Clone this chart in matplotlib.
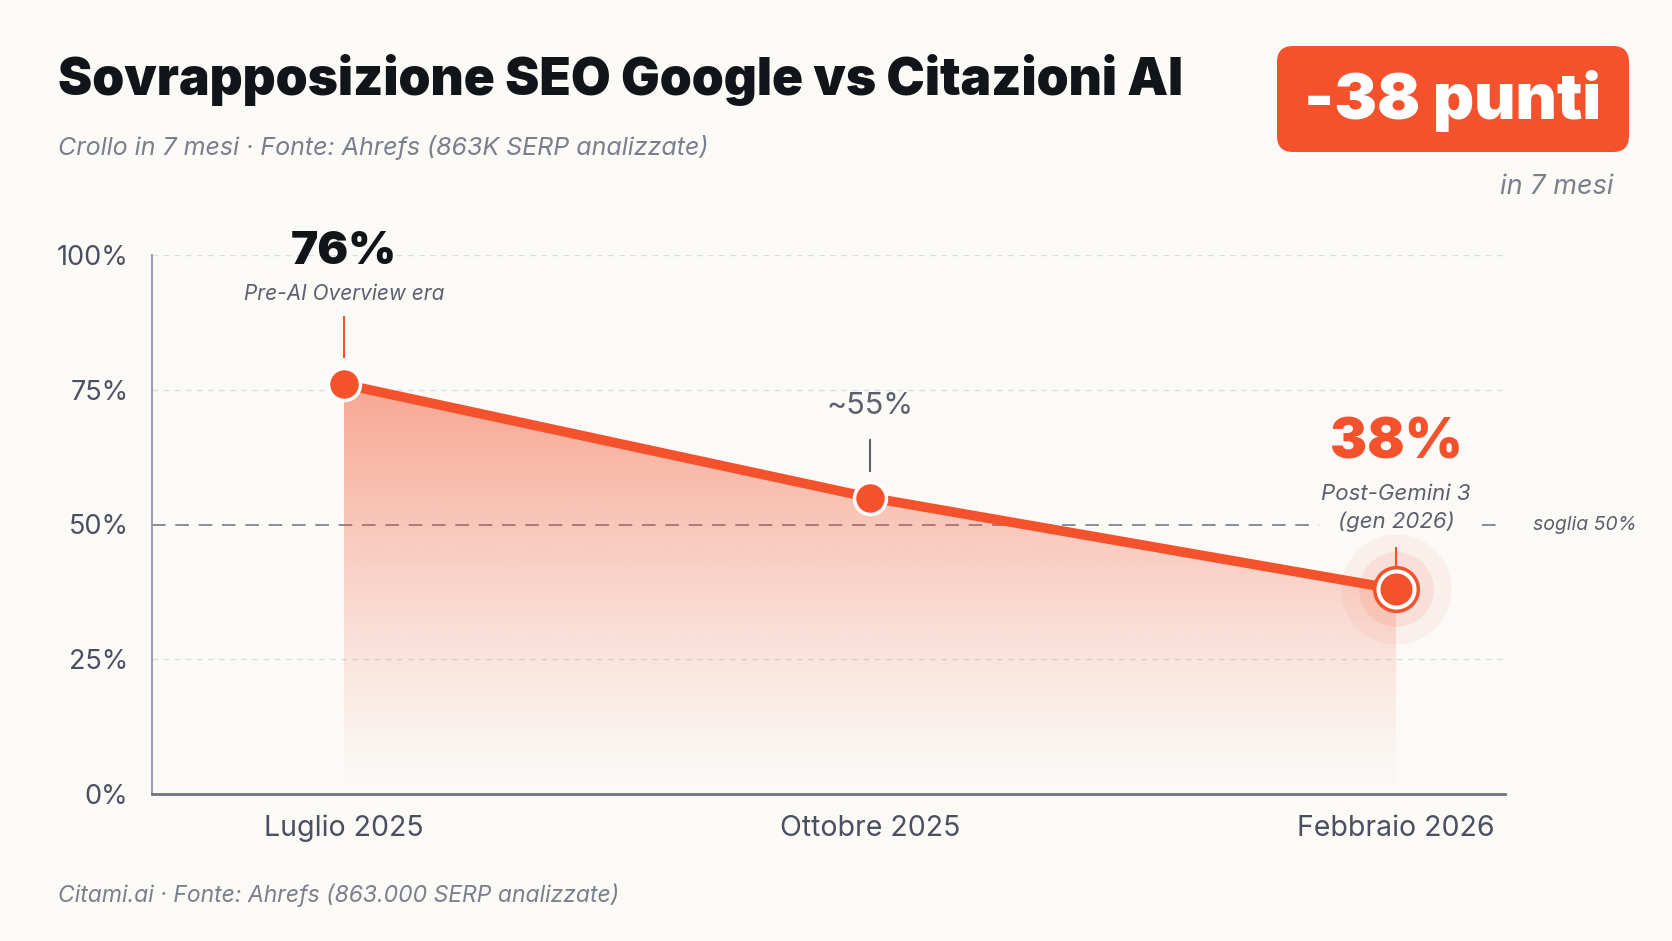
import numpy as np
import matplotlib
matplotlib.use('Agg')
import matplotlib.pyplot as plt
from matplotlib.patches import FancyBboxPatch, Polygon
from matplotlib.transforms import IdentityTransform

# dati
mesi = ['Luglio 2025', 'Ottobre 2025', 'Febbraio 2026']
sovrapposizione = [76, 55, 38]
etichette_punti = ['76%', '~55%', '38%']
note_punti = ['Pre-AI Overview era', '', 'Post-Gemini 3\n(gen 2026)']
tick_y = [0, 25, 50, 75, 100]
tick_y_lab = ['0%', '25%', '50%', '75%', '100%']
soglia = 50

ARANCIO = '#F4522D'
SFONDO = '#FBFAF7'
NERO = '#111418'
GRIGIO = '#5b606c'
GRIGIO_CHIARO = '#7a7f8c'

plt.rcParams['font.family'] = ['Inter', 'DejaVu Sans']

W, H = 1672, 941
fig = plt.figure(figsize=(W / 100, H / 100), dpi=100, facecolor=SFONDO)
ax = fig.add_axes([152 / W, 1 - 794 / H, (1505 - 152) / W, (794 - 255) / H])
ax.set_facecolor('none')

x = np.arange(len(mesi))

# riempimento sfumato sotto la linea
verts = [(x[0], 0)] + list(zip(x, sovrapposizione)) + [(x[-1], 0)]
poly = Polygon(verts, closed=True, facecolor='none', edgecolor='none')
ax.add_patch(poly)
grad = np.zeros((256, 1, 4))
grad[:, :, :3] = matplotlib.colors.to_rgb(ARANCIO)
grad[:, 0, 3] = np.linspace(0.0, 0.5, 256) ** 1.2 / 0.5 ** 0.2
im = ax.imshow(grad, extent=[x[0], x[-1], 0, max(sovrapposizione)], origin='lower',
               aspect='auto', zorder=1, interpolation='bilinear')
im.set_clip_path(poly)

# griglia
for v in [25, 75, 100]:
    ax.axhline(v, color='#dcdcdc', lw=1, ls=(0, (4, 4)), zorder=0)
ax.axhline(soglia, color='#8a8d96', lw=1.4, ls=(0, (7, 5)), zorder=0)
ax.text(2.26, soglia, 'soglia 50%', ha='left', va='center', fontsize=14,
        style='italic', color=GRIGIO)

# linea e punti
ax.plot(x, sovrapposizione, color=ARANCIO, lw=7, solid_capstyle='round', zorder=3)
ax.scatter([x[-1]], [sovrapposizione[-1]], s=6300, color=ARANCIO, alpha=0.06, lw=0, zorder=2)
ax.scatter([x[-1]], [sovrapposizione[-1]], s=2900, color=ARANCIO, alpha=0.10, lw=0, zorder=2)
ax.plot(x[:2], sovrapposizione[:2], 'o', ms=23, mfc=ARANCIO, mec='white', mew=2.5, zorder=5)
ax.plot(x[-1:], sovrapposizione[-1:], 'o', ms=34, mfc=ARANCIO, mec='none', zorder=5)
ax.plot(x[-1:], sovrapposizione[-1:], 'o', ms=26, mfc=ARANCIO, mec='white', mew=2.9, zorder=6)

# etichette dei punti
ax.text(x[0], 100.6, etichette_punti[0], ha='center', va='center', fontsize=33,
        fontweight='black', color=NERO, clip_on=False)
ax.text(x[0], 92.8, note_punti[0], ha='center', va='center', fontsize=15,
        style='italic', color=GRIGIO)
ax.plot([x[0], x[0]], [81.1, 88.5], color=ARANCIO, lw=1.5, zorder=2)

ax.text(x[1], 72, etichette_punti[1], ha='center', va='center', fontsize=22, color=GRIGIO)
ax.plot([x[1], x[1]], [59.9, 65.7], color=GRIGIO, lw=1.5, zorder=2)

ax.text(x[2], 65.1, etichette_punti[2], ha='center', va='center', fontsize=40,
        fontweight='black', color=ARANCIO)
ax.text(x[2], 53, note_punti[2], ha='center', va='center', fontsize=16,
        style='italic', color=GRIGIO, linespacing=1.45,
        bbox=dict(facecolor=SFONDO, edgecolor='none', pad=2), zorder=4)
ax.plot([x[2], x[2]], [38, 45.6], color=ARANCIO, lw=1.5, zorder=2)

# assi
ax.set_xlim(-0.365, 2.207)
ax.set_ylim(0, 100)
ax.set_xticks(x)
ax.set_xticklabels(mesi, fontsize=20.5, color='#4b5060')
ax.set_yticks(tick_y)
ax.set_yticklabels(tick_y_lab, fontsize=19.5, color='#4b5060')
ax.tick_params(length=0)
ax.tick_params(axis='y', pad=17)
ax.tick_params(axis='x', pad=15)
for s in ['top', 'right']:
    ax.spines[s].set_visible(False)
ax.spines['left'].set_color('#9095a2')
ax.spines['left'].set_linewidth(1.3)
ax.spines['bottom'].set_color('#6e7382')
ax.spines['bottom'].set_linewidth(2)

# titoli
fig.text(58 / W, 1 - 80 / H, 'Sovrapposizione SEO Google vs Citazioni AI', fontsize=37,
         fontweight='black', color=NERO, va='center')
fig.text(58 / W, 1 - 148 / H, 'Crollo in 7 mesi · Fonte: Ahrefs (863K SERP analizzate)',
         fontsize=18, style='italic', color=GRIGIO_CHIARO, va='center')

# riquadro -38 punti
badge = FancyBboxPatch((1277, H - 152), 352, 106, boxstyle='round,pad=0,rounding_size=16',
                       transform=IdentityTransform(), facecolor=ARANCIO, edgecolor='none')
fig.add_artist(badge)
fig.text(1453 / W, 1 - 101 / H, '-38 punti', fontsize=46, fontweight='black', color='white',
         ha='center', va='center')
fig.text(1613 / W, 1 - 187 / H, 'in 7 mesi', fontsize=19.5, style='italic',
         color=GRIGIO_CHIARO, ha='right', va='center')

fig.text(58 / W, 1 - 895 / H, 'Citami.ai · Fonte: Ahrefs (863.000 SERP analizzate)',
         fontsize=16.5, style='italic', color=GRIGIO_CHIARO, va='center')

fig.savefig('out.png', dpi=100, facecolor=SFONDO)
